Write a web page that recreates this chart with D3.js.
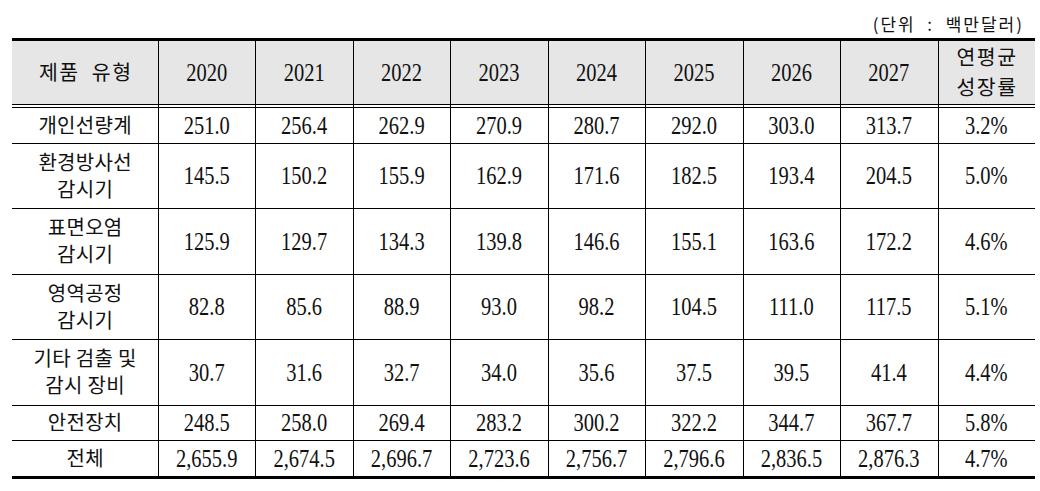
<!DOCTYPE html>
<html>
<head>
<meta charset="utf-8">
<script src="https://cdn.jsdelivr.net/npm/d3@7"></script>
<style>
  body { margin: 0; background: #fff; }
  svg { display: block; }
  .num { font-family: "Liberation Serif", "DejaVu Serif", serif; fill: #111; }
  .kor { font-family: "Noto Sans CJK KR", sans-serif; fill: #111; }
</style>
</head>
<body>
<script>
// Table values (unit: million dollars)
var years = ["2020", "2021", "2022", "2023", "2024", "2025", "2026", "2027"];
var categories = [
    ["개인선량계"],
    ["환경방사선", "감시기"],
    ["표면오염", "감시기"],
    ["영역공정", "감시기"],
    ["기타 검출 및", "감시 장비"],
    ["안전장치"],
    ["전체"]
];
var personalDosimeter = [251.0, 256.4, 262.9, 270.9, 280.7, 292.0, 303.0, 313.7];
var envRadiation = [145.5, 150.2, 155.9, 162.9, 171.6, 182.5, 193.4, 204.5];
var surfaceContam = [125.9, 129.7, 134.3, 139.8, 146.6, 155.1, 163.6, 172.2];
var areaProcess = [82.8, 85.6, 88.9, 93.0, 98.2, 104.5, 111.0, 117.5];
var otherDetection = [30.7, 31.6, 32.7, 34.0, 35.6, 37.5, 39.5, 41.4];
var safetyDevice = [248.5, 258.0, 269.4, 283.2, 300.2, 322.2, 344.7, 367.7];
var total = [2655.9, 2674.5, 2696.7, 2723.6, 2756.7, 2796.6, 2836.5, 2876.3];
var cagr = [3.2, 5.0, 4.6, 5.1, 4.4, 5.8, 4.7];

var headerLabel = "제품  유형";
var cagrLabel = ["연평균", "성장률"];
var unitLabel = "(단위  :  백만달러)";

var rows = [personalDosimeter, envRadiation, surfaceContam, areaProcess, otherDetection, safetyDevice, total]
    .map(function(vals, i) { return { label: categories[i], values: vals, cagr: cagr[i] }; });

var W = 1040, H = 491;
var LEFT = 12, FIRST = 158, RIGHT = 1035;
var TOP = 40, HEAD_H = 67;
var lineH = function(n) { return n === 1 ? 35.5 : 65.5; };

var svg = d3.select("body").append("svg").attr("width", W).attr("height", H);

var colKeys = years.concat(["cagr"]);
var x = d3.scaleBand().domain(colKeys).range([FIRST, RIGHT]);

// row edges
var edges = [TOP + HEAD_H];
rows.forEach(function(r) { edges.push(edges[edges.length - 1] + lineH(r.label.length)); });
var y = d3.scaleOrdinal().domain(d3.range(rows.length)).range(edges.slice(0, -1));
var bottom = edges[edges.length - 1];

var fmt = d3.format(",.1f");
var fmtPct = function(v) { return d3.format(".1f")(v) + "%"; };

// header background
svg.append("rect")
    .attr("x", LEFT).attr("y", TOP)
    .attr("width", RIGHT - LEFT).attr("height", HEAD_H - 2)
    .attr("fill", "#e6e6e6");

// unit label
svg.append("text")
    .attr("class", "kor")
    .attr("x", 1024).attr("y", 31)
    .attr("text-anchor", "end")
    .style("font-size", "17px")
    .style("letter-spacing", "2px")
    .style("white-space", "pre")
    .text(unitLabel);

function numText(cx, cy, txt, size) {
    size = size || 25;
    svg.append("text")
        .attr("class", "num")
        .attr("transform", "translate(" + cx + "," + (cy + size * 0.338) + ") scale(0.82,1)")
        .attr("text-anchor", "middle")
        .style("font-size", size + "px")
        .text(txt);
}

function korText(cx, cy, lines, size, gap, spacing) {
    var n = lines.length;
    lines.forEach(function(t, i) {
        var ly = cy + (i - (n - 1) / 2) * gap;
        svg.append("text")
            .attr("class", "kor")
            .attr("x", cx + (spacing || 0) / 2).attr("y", ly + size * 0.37)
            .attr("text-anchor", "middle")
            .style("font-size", size + "px")
            .style("letter-spacing", (spacing || 0) + "px")
            .style("white-space", "pre")
            .text(t);
    });
}

// header texts
var headMid = TOP + HEAD_H / 2 - 1;
korText((LEFT + FIRST) / 2, headMid, [headerLabel], 20.5, 0, 1.5);
years.forEach(function(yr) {
    numText(x(yr) + x.bandwidth() / 2, headMid, yr, 25);
});
korText(x("cagr") + x.bandwidth() / 2, headMid, cagrLabel, 20.5, 30, 1.5);

// body texts
rows.forEach(function(r, i) {
    var top = y(i), h = lineH(r.label.length);
    var cy = top + h / 2 + 0.5;
    korText((LEFT + FIRST) / 2, cy, r.label, 20, 27, 0.3);
    r.values.forEach(function(v, j) {
        numText(x(years[j]) + x.bandwidth() / 2, cy, fmt(v), 25);
    });
    numText(x("cagr") + x.bandwidth() / 2, cy, fmtPct(r.cagr), 25);
});

// grid lines
var g = svg.append("g").attr("stroke", "#000").attr("shape-rendering", "crispEdges");
var vx = [FIRST].concat(colKeys.slice(1).map(function(k) { return Math.round(x(k)); }));
vx.forEach(function(px) {
    g.append("line").attr("x1", px).attr("x2", px)
        .attr("y1", TOP).attr("y2", bottom).attr("stroke-width", 1);
});
// thick top / bottom
g.append("line").attr("x1", LEFT).attr("x2", RIGHT).attr("y1", TOP - 0.5).attr("y2", TOP - 0.5).attr("stroke-width", 3);
g.append("line").attr("x1", LEFT).attr("x2", RIGHT).attr("y1", bottom + 1.5).attr("y2", bottom + 1.5).attr("stroke-width", 3);
// double line under header
[TOP + HEAD_H - 3, TOP + HEAD_H].forEach(function(py) {
    g.append("line").attr("x1", LEFT).attr("x2", RIGHT).attr("y1", py).attr("y2", py).attr("stroke-width", 1);
});
// row separators
edges.slice(1, -1).forEach(function(py) {
    g.append("line").attr("x1", LEFT).attr("x2", RIGHT).attr("y1", Math.round(py)).attr("y2", Math.round(py)).attr("stroke-width", 1);
});
</script>
</body>
</html>
